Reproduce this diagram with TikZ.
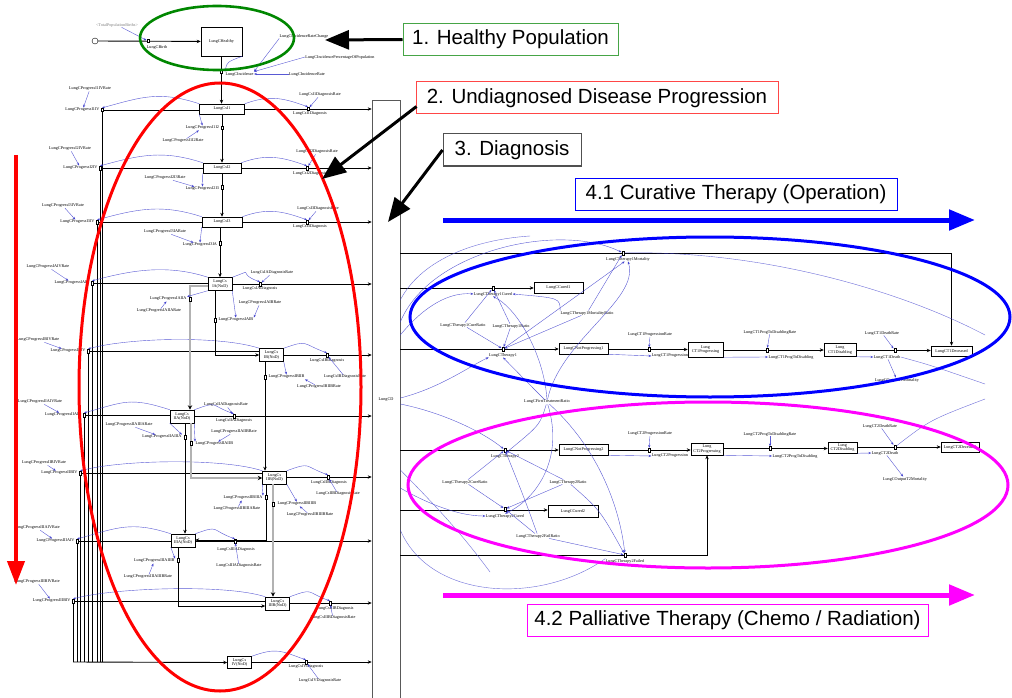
\documentclass[tikz,border=0pt]{standalone}
\usepackage{fontspec}
\setmainfont{Liberation Serif}
\newfontfamily\annfont{Liberation Sans}
\usetikzlibrary{arrows.meta,calc}
\newcommand\tn{\fontsize{4.2}{4.6}\selectfont}
\definecolor{lnk}{RGB}{60,60,205}
\definecolor{grn}{RGB}{0,135,0}
\definecolor{mag}{RGB}{255,0,255}
\definecolor{bl}{RGB}{0,0,255}
\tikzset{
  lbl/.style={font=\tn, inner sep=0.3pt},
  stk/.style={draw, line width=0.5pt, fill=white, font=\tn, inner sep=0.4pt, align=center},
  valve/.style={draw, line width=0.6pt, fill=white, minimum width=2.4pt, minimum height=3.6pt, inner sep=0pt},
  flow/.style={line width=0.9pt, -{Stealth[length=4pt,width=3.4pt]}},
  pipe/.style={line width=0.8pt},
  gflow/.style={draw=gray!60, line width=1.7pt, -{Stealth[length=4.5pt,width=4.4pt,color=black]}},
  link/.style={draw=lnk, draw opacity=0.85, line width=0.4pt, -{Stealth[length=3pt,width=2.3pt,fill=lnk]}},
  arcl/.style={draw=lnk, draw opacity=0.75, line width=0.4pt},
  note/.style={draw, line width=1pt, inner sep=0pt, minimum height=32pt, font=\annfont\fontsize{20.5}{24}\selectfont},
  callout/.style={line width=3pt, -{Triangle[length=24pt,width=19pt]}},
  ring/.style={line width=3pt}
}
\begin{document}
\begin{tikzpicture}[x=1pt,y=-1pt]
\useasboundingbox (0,0) rectangle (1012,698);
\fill[white] (0,0) rectangle (1012,698);

% ---------- healthy population ----------
\node[circle,draw,line width=0.4pt,minimum size=6pt,inner sep=0pt] (src) at (95,41) {};
\node[stk,minimum width=41pt,minimum height=29pt] (healthy) at (221.5,41.5) {LungCHealthy};
\draw[flow] (src) -- (healthy);
\node[valve] (vbirth) at (148,41) {};
\node[lbl] (birth) at (157,47) {LungCBirth};
\node[lbl,text=gray] (births) at (117,25) {<TotalPopulationBirths>};
\draw[link] (births) -- (vbirth);

% ---------- disease stages ----------
\node[stk,minimum width=45pt,minimum height=10pt] (stI1) at (222,109) {LungCsI1};
\node[stk,minimum width=38pt,minimum height=10pt] (stI2) at (222,168) {LungCsI2};
\node[stk,minimum width=40pt,minimum height=10pt] (stI3) at (222,222) {LungCsI3};
\node[stk,minimum width=24pt,minimum height=13pt] (stIA) at (220,284) {LungCs\\IA(NoD)};
\node[stk,minimum width=24pt,minimum height=13pt] (stIB) at (271.5,355) {LungCs\\IB(NoD)};
\node[stk,minimum width=24pt,minimum height=13pt] (stIIA) at (182,416.5) {LungCs\\IIA(NoD)};
\node[stk,minimum width=24pt,minimum height=13pt] (stIIB) at (274.5,477.5) {LungCs\\IIB(NoD)};
\node[stk,minimum width=24pt,minimum height=13pt] (stIIIA) at (183,540.5) {LungCs\\IIIA(NoD)};
\node[stk,minimum width=24pt,minimum height=13pt] (stIIIB) at (277.5,603.5) {LungCs\\IIIB(NoD)};
\node[stk,minimum width=24pt,minimum height=12pt] (stIV) at (239.5,662.5) {LungCs\\IV(NoD)};

% incidence
\draw[flow] (healthy.south) -- (healthy.south |- stI1.north);
\node[valve] (vinc) at (221.5,72) {};
\node[lbl,anchor=west] (inc) at (225,74) {LungCIncidence};
\node[lbl] (irc) at (304,36) {LungCIncidenceRateChange};
\node[lbl] (ipp) at (340,57) {LungCIncidencePercentageOfPopulation};
\node[lbl] (ir) at (307,74) {LungCIncidenceRate};
\draw[link] (irc.south west) -- (inc.north east);
\draw[link] (ipp.west) -- (inc.north east);
\draw[link] (ir) -- (inc);
\draw[link] (healthy.south east) .. controls (227,62) .. (inc.north west);

% ---------- diagnosis stock ----------
\node[draw=gray!70!black,line width=0.6pt,minimum width=28pt,minimum height=600pt,inner sep=0pt,font=\tn] (cd) at (386,400) {LungCD};

% diagnosis flows of every stage
\foreach \id/\y/\vx/\lx/\ly/\rx/\ry in {
  I1/109/308/310/114/320/95,
  I2/168/307/310/174/317/152,
  I3/222/307/310/227/318/209,
  IA/284/260/260/289/272/273,
  IB/355/327/327/361/345/377,
  IIA/416/234/234/421/226/405,
  IIB/477/328/329/483/338/494,
  IIIA/541/235/236/550/239/566,
  IIIB/603/330/335/609/333/618,
  IV/662/306/306/667/320/681}
{
  \draw[flow] (st\id.east |- 0,\y) -- (cd.west |- 0,\y);
  \node[valve] (dv\id) at (\vx,\y) {};
  \node[lbl] (dl\id) at (\lx,\ly) {LungCs\id Diagnosis};
  \node[lbl] (dr\id) at (\rx,\ry) {LungCs\id DiagnosisRate};
  \draw[link] (dr\id) -- (dv\id);
  \draw[link] (st\id.north east) .. controls +(25,-9) and +(-25,-9) .. (dv\id.north);
}

% progression into stage IV, collected in the left bundle
\foreach \id/\y/\px/\rx/\ry in {
  I1/110/102/90/89,
  I2/168/100/70/149,
  I3/222/97/63/206,
  IA/283/92/48/267,
  IB/351/88/38/340,
  IIA/415/84/40/402,
  IIB/473/80/44/463,
  IIIA/541/77/37/528,
  IIIB/601/73/37/582}
{
  \draw[pipe] (st\id.west |- 0,\y) -- (\px,\y) -- (\px,662);
  \node[valve] (pv\id) at (\px,\y) {};
  \node[lbl,anchor=east] (pl\id) at (\px-2,\y) {LungCProgress\id IV};
  \node[lbl] (pr\id) at (\rx,\ry) {LungCProgress\id IVRate};
  \draw[link] (pr\id) -- (pl\id);
  \draw[link] (st\id.north west) .. controls +(-40,-13) and +(40,-11) .. (pv\id.north);
}
\draw[flow] (73,662) -- (stIV.west);

% progression between early stages
\draw[flow] (stI1.south) -- (stI2.north);
\node[valve] (vI12) at (222,128) {};
\node[lbl,anchor=east] (lI12) at (219.5,128) {LungCProgressI1I2};
\node[lbl] (rI12) at (183,141) {LungCProgressI1I2Rate};
\draw[link] (rI12) -- (lI12);
\draw[link] (stI1.south west) -- (lI12.north);

\draw[flow] (stI2.south) -- (stI3.north);
\node[valve] (vI23) at (222,187) {};
\node[lbl,anchor=east] (lI23) at (219.5,189) {LungCProgressI2I3};
\node[lbl] (rI23) at (165,178) {LungCProgressI2I3Rate};
\draw[link] (rI23) -- (lI23);
\draw[link] (stI2.south west) -- (lI23.north);

\draw[flow] (stI3.south -| stIA.north) -- (stIA.north);
\node[valve] (vI3A) at (220,243) {};
\node[lbl,anchor=east] (lI3A) at (217.5,245) {LungCProgressI3IA};
\node[lbl] (rI3A) at (165,232) {LungCProgressI3IARate};
\draw[link] (rI3A) -- (lI3A);
\draw[link] (stI3.south west) -- (lI3A.north);

% IA -> IB
\draw[flow] (stIA.south -| 215,0) -- (215,355) -- (stIB.west);
\node[valve] (vAB) at (215,320) {};
\node[lbl,anchor=west] (lAB) at (218,320) {LungCProgressIAIB};
\node[lbl] (rAB) at (260,303) {LungCProgressIAIBRate};
\draw[link] (rAB) -- (lAB.north east);
\draw[link] (stIA.south east) -- (lAB.north);
% IA -> IIA
\draw[gflow] (stIA.west |- 0,286) -- (190,286) -- (stIIA.north -| 190,0);
\node[valve] (vAIIA) at (190,299) {};
\node[lbl,anchor=east] (lAIIA) at (187,299) {LungCProgressIAIIA};
\node[lbl] (rAIIA) at (159,311) {LungCProgressIAIIARate};
\draw[link] (rAIIA) -- (lAIIA);
\draw[link] (stIA.south west) -- (lAIIA.north east);
% IB -> IIB
\draw[flow] (stIB.south -| 265,0) -- (stIIB.north -| 265,0);
\node[valve] (vBIIB) at (265,377) {};
\node[lbl,anchor=west] (lBIIB) at (268,377) {LungCProgressIBIIB};
\node[lbl] (rBIIB) at (319,387) {LungCProgressIBIIBRate};
\draw[link] (rBIIB) -- (lBIIB.south east);
\draw[link] (stIB.south east) -- (lBIIB.north);
% IIA -> IIIA
\draw[flow] (stIIA.south -| 185,0) -- (stIIIA.north -| 185,0);
\node[valve] (vIIAIIIA) at (185,437) {};
\node[lbl,anchor=east] (lIIAIIIA) at (182,437) {LungCProgressIIAIIIA};
\node[lbl] (rIIAIIIA) at (129,425) {LungCProgressIIAIIIARate};
\draw[link] (rIIAIIIA) -- (lIIAIIIA);
\draw[link] (stIIA.south west) -- (lIIAIIIA.north east);
% IIA -> IIB
\draw[gflow] (stIIA.south -| 191,0) -- (191,478) -- (stIIB.west |- 0,478);
\node[valve] (vIIAIIB) at (191,443) {};
\node[lbl,anchor=west] (lIIAIIB) at (195,444) {LungCProgressIIAIIB};
\node[lbl] (rIIAIIB) at (234,432) {LungCProgressIIAIIBRate};
\draw[link] (rIIAIIB) -- (lIIAIIB);
\draw[link] (stIIA.south east) -- (lIIAIIB.north west);
% IIB -> IIIA
\draw[flow] (stIIB.south -| 266,0) -- (266,540) -- (stIIIA.east |- 0,540);
\node[valve] (vIIBIIIA) at (266,497) {};
\node[lbl,anchor=east] (lIIBIIIA) at (263,498) {LungCProgressIIBIIIA};
\node[lbl] (rIIBIIIA) at (237,509) {LungCProgressIIBIIIARate};
\draw[link] (rIIBIIIA) -- (lIIBIIIA);
\draw[link] (stIIB.south west) -- (lIIBIIIA.north east);
% IIB -> IIIB
\draw[gflow] (stIIB.south -| 273,0) -- (stIIIB.north -| 273,0);
\node[valve] (vIIBIIIB) at (273,504) {};
\node[lbl,anchor=west] (lIIBIIIB) at (277,504) {LungCProgressIIBIIIB};
\node[lbl] (rIIBIIIB) at (310,515) {LungCProgressIIBIIIBRate};
\draw[link] (rIIBIIIB) -- (lIIBIIIB);
\draw[link] (stIIB.south east) -- (lIIBIIIB.north);
% IIIA -> IIIB
\draw[flow] (stIIIA.south -| 178,0) -- (178,606) -- (stIIIB.west |- 0,606);
\node[valve] (vIIIAB) at (178,560) {};
\node[lbl,anchor=east] (lIIIAB) at (175,561) {LungCProgressIIIAIIIB};
\node[lbl] (rIIIAB) at (148,577) {LungCProgressIIIAIIIBRate};
\draw[link] (rIIIAB) -- (lIIIAB);
\draw[link] (stIIIA.south west) -- (lIIIAB.north east);

% ---------- therapy ----------
\node[stk,minimum width=49pt,minimum height=11pt] (cured1) at (558.5,287.5) {LungCCured1};
\node[stk,minimum width=49pt,minimum height=11pt] (np1) at (583.5,348.5) {LungCNotProgressing1};
\node[stk,minimum width=35pt,minimum height=15pt] (t1prog) at (705.5,349.5) {Lung\\CT1Progressing};
\node[stk,minimum width=32pt,minimum height=13pt] (t1dis) at (840,350) {Lung\\CT1Disabling};
\node[stk,minimum width=41pt,minimum height=10pt] (t1dec) at (951.5,351) {LungCT1Deceased};
\node[stk,minimum width=49pt,minimum height=11pt] (np2) at (583.5,449.5) {LungCNotProgressing2};
\node[stk,minimum width=32pt,minimum height=12pt] (t2prog) at (707,449) {Lung\\CT2Progressing};
\node[stk,minimum width=29pt,minimum height=11pt] (t2dis) at (842.5,447.5) {Lung\\CT2Disabling};
\node[stk,minimum width=38pt,minimum height=10pt] (t2dec) at (960,447) {LungCT2Deceased};
\node[stk,minimum width=50pt,minimum height=12pt] (cured2) at (573,511) {LungCCured2};

% therapy 1 (operation)
\draw[flow] (cd.east |- 0,253) -| (t1dec.north);
\node[valve] (vmort1) at (623,253) {};
\node[lbl] (mort1) at (628,259) {LungCTherapy1Mortality};
\draw[flow] (cd.east |- 0,288) -- (cured1.west |- 0,288);
\node[valve] (vcur1) at (493,288) {};
\node[lbl] (cur1) at (493,294) {LungCTherapy1Cured};
\draw[flow] (cd.east |- 0,349) -- (np1.west |- 0,349);
\node[valve] (vth1) at (503,349) {};
\node[lbl] (th1) at (503,355) {LungCTherapy1};
\draw[flow] (np1.east |- 0,349.5) -- (t1prog.west |- 0,349.5);
\node[valve] (vt1p) at (649,349.5) {};
\node[lbl] (t1p) at (670,356) {LungCT1Progression};
\node[lbl] (t1pr) at (650,335) {LungCT1ProgressionRate};
\draw[flow] (t1prog.east |- 0,350) -- (t1dis.west |- 0,350);
\node[valve] (vt1d) at (767,350) {};
\node[lbl] (t1d) at (791,357) {LungCT1ProgToDisabling};
\node[lbl] (t1dr) at (770,332) {LungCT1ProgToDisablingRate};
\draw[flow] (t1dis.east |- 0,350.5) -- (t1dec.west |- 0,350.5);
\node[valve] (vt1x) at (895,350.5) {};
\node[lbl] (t1x) at (887,357) {LungCT1Death};
\node[lbl] (t1xr) at (882,333) {LungCT1DeathRate};
\node[lbl] (out1) at (897,380) {LungCOutputT1Mortality};

% therapy 2 (chemo / radiation)
\draw[flow] (cd.east |- 0,450) -- (np2.west |- 0,450);
\node[valve] (vth2) at (505,450) {};
\node[lbl] (th2) at (505,456) {LungCTherapy2};
\draw[flow] (np2.east |- 0,450) -- (t2prog.west |- 0,450);
\node[valve] (vt2p) at (649,450) {};
\node[lbl] (t2p) at (670,456) {LungCT2Progression};
\node[lbl] (t2pr) at (650,434) {LungCT2ProgressionRate};
\draw[flow] (t2prog.east |- 0,448.5) -- (t2dis.west |- 0,448.5);
\node[valve] (vt2d) at (770,448.5) {};
\node[lbl] (t2d) at (795,456) {LungCT2ProgToDisabling};
\node[lbl] (t2dr) at (770,434) {LungCT2ProgToDisablingRate};
\draw[flow] (t2dis.east |- 0,447) -- (t2dec.west |- 0,447);
\node[valve] (vt2x) at (895,447) {};
\node[lbl] (t2x) at (885,453) {LungCT2Death};
\node[lbl] (t2xr) at (880,426) {LungCT2DeathRate};
\node[lbl] (out2) at (905,479) {LungCOutputT2Mortality};
\draw[flow] (cd.east |- 0,510) -- (cured2.west |- 0,510);
\node[valve] (vcur2) at (505,509) {};
\node[lbl] (cur2) at (505,516) {LungCTherapy2Cured};
\draw[flow] (cd.east |- 0,555) -| (t2prog.south);
\node[valve] (vfail) at (625,555) {};
\node[lbl] (fail) at (625,561) {LungCTherapy2Failed};

% ratios
\node[lbl] (ct1cr) at (463,325) {LungCTherapy1CureRatio};
\node[lbl] (ct1r) at (511,326) {LungCTherapy1Ratio};
\node[lbl] (ct1mr) at (587,313) {LungCTherapy1MortalityRatio};
\node[lbl] (cftr) at (547,402) {LungCFirstTreatmentRatio};
\node[lbl] (ct2cr) at (465,482) {LungCTherapy2CureRatio};
\node[lbl] (ct2r) at (568,482) {LungCTherapy2Ratio};
\node[lbl] (ct2fr) at (538,536) {LungCTherapy2FailRatio};

% information links of the therapy part
\draw[link] (cd.east |- 0,335) .. controls (425,305) and (450,292) .. (cur1.west);
\draw[link] (cd.east |- 0,398) .. controls (440,388) and (470,366) .. (th1.south west);
\draw[link] (cd.east |- 0,322) .. controls (430,250) and (560,222) .. (vmort1);
\draw[arcl] (cd.east |- 0,300) .. controls (420,262) and (470,240) .. (530,236);
\draw[link] (ct1cr) -- (vcur1);
\draw[link] (ct1cr) -- (vth1);
\draw[link] (ct1r) -- (vcur1);
\draw[link] (ct1r) -- (vth1);
\draw[link] (ct1mr.north west) .. controls (560,298) .. (cur1.east);
\draw[link] (ct1mr) -- (vth1);
\draw[link] (ct1mr) -- (vmort1);
\draw[link] (vth1) -- (mort1);
\draw[link] (cftr) .. controls (530,385) .. (th1.south);
\draw[link] (cftr) .. controls (560,340) and (640,300) .. (mort1.south);
\draw[link] (cftr) .. controls (545,360) and (520,310) .. (cur1.south);
\draw[link] (cftr) .. controls (540,425) .. (th2.north);
\draw[link] (cftr) .. controls (565,460) and (535,500) .. (cur2.north);
\draw[link] (cftr) .. controls (600,450) and (620,510) .. (vfail);
\draw[link] (cd.east |- 0,404) .. controls (440,412) and (480,430) .. (vth2);
\draw[link] (cd.east |- 0,488) .. controls (430,505) and (460,516) .. (cur2.west);
\draw[link] (ct2cr) -- (vth2);
\draw[link] (ct2cr) -- (vcur2);
\draw[link] (ct2r) -- (vth2);
\draw[link] (ct2r) -- (vcur2);
\draw[link] (ct2r) .. controls (600,510) .. (vfail);
\draw[link] (ct2fr) -- (vcur2);
\draw[link] (ct2fr) .. controls (525,500) .. (vth2);
\draw[link] (ct2fr) -- (vfail);
\draw[arcl] (cd.east |- 0,530) .. controls (430,600) and (540,605) .. (fail.north west);
\draw[arcl] (cd.east |- 0,470) .. controls (450,520) and (470,545) .. (490,572);
% stock-to-rate links along the therapy chains
\draw[link] (np1.south east) -- (t1p.west);
\draw[link] (t1pr) -- (vt1p);
\draw[link] (t1prog.south east) -- (t1d.west);
\draw[link] (t1dr) -- (vt1d);
\draw[link] (t1dis.south east) -- (t1x.west);
\draw[link] (t1xr) -- (vt1x);
\draw[link] (t1x) -- (out1);
\draw[link] (np2.south east) -- (t2p.west);
\draw[link] (t2pr) -- (vt2p);
\draw[link] (t2prog.south east) -- (t2d.west);
\draw[link] (t2dr) -- (vt2d);
\draw[link] (t2dis.south east) -- (t2x.west);
\draw[link] (t2xr) -- (vt2x);
\draw[link] (t2x) -- (out2);
\draw[arcl] (vmort1) .. controls (760,250) and (900,290) .. (985,335);
\draw[arcl] (t1x.east) .. controls (930,365) .. (985,384);
\draw[arcl] (vt2x) .. controls (930,420) .. (985,399);

% ---------- highlighting rings ----------
\draw[grn,ring,line width=2.6pt] (217,38) ellipse [x radius=77pt, y radius=32pt];
\draw[red,ring] (220,387) ellipse [x radius=141pt, y radius=304pt];
\draw[bl,ring] (710,317) ellipse [x radius=300pt, y radius=80pt];
\draw[mag,ring] (708,485) ellipse [x radius=300pt, y radius=83pt];

% ---------- captions ----------
\node[note,draw={rgb,255:red,70;green,165;blue,70},minimum width=215pt] (n1) at (510.5,39.5) {1. Healthy Population};
\node[note,draw={rgb,255:red,255;green,70;blue,70},minimum width=362pt] (n2) at (597,98) {2. Undiagnosed Disease Progression};
\node[note,draw={rgb,255:red,80;green,80;blue,80},minimum width=138pt] (n3) at (512,150) {3. Diagnosis};
\node[note,draw=bl,minimum width=322pt] (n41) at (736,194) {4.1 Curative Therapy (Operation)};
\node[note,draw=mag,minimum width=401pt] (n42) at (727.5,620) {4.2 Palliative Therapy (Chemo / Radiation)};

\coordinate (tip1) at (325,40);
\coordinate (tip2) at (322,179);
\coordinate (tip3) at (388,222);
\draw[callout] (n1.west) -- (tip1);
\draw[callout] ($(n2.south west)+(1,-8)$) -- (tip2);
\draw[callout] (n3.west) -- (tip3);

\coordinate (cs) at (443,220);
\coordinate (ce) at (975,220);
\draw[bl,line width=5pt,-{Triangle[length=26pt,width=20pt]}] (cs) -- (ce);
\coordinate (ps) at (443,595);
\coordinate (pe) at (975,595);
\draw[mag,line width=5pt,-{Triangle[length=26pt,width=20pt]}] (ps) -- (pe);
\coordinate (rs) at (16,155);
\coordinate (re) at (16,585);
\draw[red,line width=4pt,-{Triangle[length=24pt,width=17pt]}] (rs) -- (re);
\end{tikzpicture}
\end{document}
